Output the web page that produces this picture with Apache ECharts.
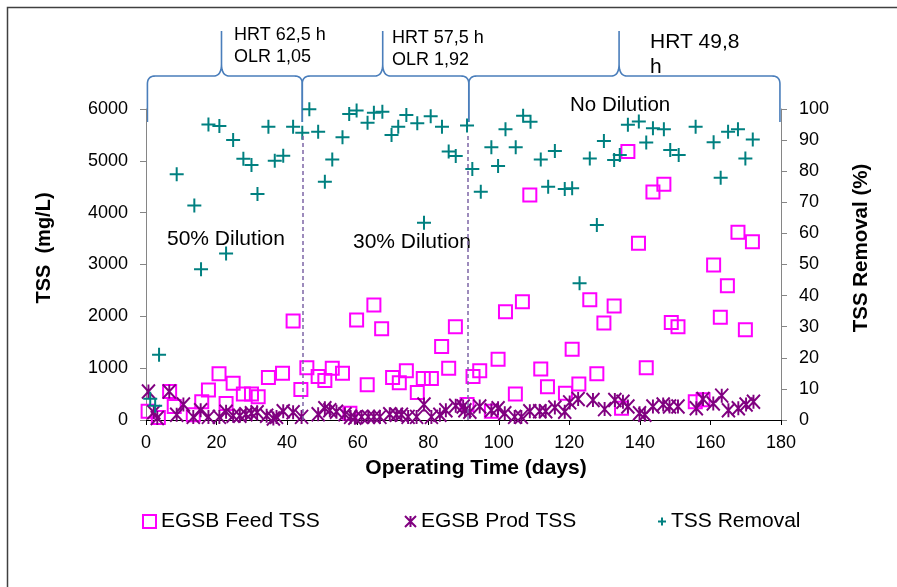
<!DOCTYPE html>
<html>
<head>
<meta charset="utf-8">
<script src="https://cdn.jsdelivr.net/npm/echarts@6/dist/echarts.min.js"></script>
<style>
  html, body { margin: 0; padding: 0; background: #fff; }
  #main { width: 897px; height: 587px; }
</style>
</head>
<body>
<div id="main"></div>
<script>
// [day, mg/L]
const feedTss = [
  [0.6, 170], [3.5, 50], [6.7, 550], [8.0, 260], [13.4, 100], [15.8, 350], [17.7, 580],
  [20.7, 890], [22.7, 320], [24.7, 710], [27.6, 500], [29.9, 500], [31.8, 450], [34.7, 820],
  [38.7, 900], [41.7, 1910], [43.9, 590], [45.6, 1010], [48.8, 840], [50.7, 760], [52.8, 1000],
  [55.7, 900], [57.8, 130], [59.7, 1930], [62.7, 680], [64.6, 2220], [66.8, 1760], [69.9, 820],
  [71.8, 720], [73.8, 950], [76.9, 530], [78.6, 800], [80.9, 800], [83.8, 1420], [85.8, 1000],
  [87.7, 1800], [91.0, 300], [92.7, 840], [94.6, 950], [97.9, 170], [99.8, 1170], [101.9, 2090],
  [104.7, 500], [106.7, 2280], [108.8, 4340], [111.9, 985], [113.8, 640], [118.9, 515],
  [120.8, 1365], [122.7, 695], [125.8, 2320], [127.8, 890], [129.8, 1870], [132.7, 2200],
  [134.8, 225], [136.6, 5180], [139.6, 3410], [141.8, 1010], [143.7, 4400], [146.8, 4550],
  [148.9, 1880], [150.8, 1800], [155.7, 350], [157.9, 390], [160.9, 2990], [162.8, 1980],
  [164.8, 2590], [167.8, 3620], [169.9, 1740], [171.9, 3440]
];
const prodTss = [
  [0.7, 550], [2.2, 150], [3.2, 40], [6.6, 550], [8.7, 100], [10.6, 300], [13.4, 60], [15.5, 190],
  [17.7, 60], [20.8, 60], [22.7, 160], [24.7, 80], [26.6, 80], [28.3, 110], [29.9, 130], [31.5, 150],
  [34.2, 80], [36.1, 30], [37.0, 60], [38.9, 170], [41.7, 150], [44.1, 60], [48.8, 110], [50.7, 225],
  [52.1, 190], [54.0, 160], [56.4, 110], [58.0, 60], [59.2, 45], [61.1, 60], [63.0, 60], [64.6, 60],
  [66.3, 60], [69.1, 110], [71.0, 100], [72.4, 100], [74.3, 60], [76.7, 60], [78.8, 300], [80.9, 60],
  [83.3, 100], [85.0, 190], [87.8, 275], [89.9, 260], [90.4, 190], [91.8, 160], [94.6, 260],
  [97.9, 190], [99.8, 225], [101.7, 130], [104.5, 60], [106.4, 60], [108.8, 170], [111.6, 170],
  [113.3, 170], [115.9, 240], [118.7, 160], [120.1, 340], [122.5, 405], [126.7, 385], [130.0, 210],
  [132.9, 385], [135.2, 350], [136.6, 260], [139.9, 130], [141.4, 100], [143.7, 260], [146.6, 300],
  [148.4, 260], [150.8, 260], [156.0, 225], [157.9, 405], [160.8, 320], [163.2, 470], [165.1, 190],
  [167.9, 225], [170.1, 300], [172.2, 350]
];
// [day, %]
const tssRemoval = [
  [1.2, 6.8], [2.6, 4.6], [3.7, 21], [8.7, 79], [13.7, 69], [15.6, 48.5], [17.7, 95], [20.8, 94.5],
  [22.7, 53.5], [24.7, 90], [27.6, 84], [29.9, 82], [31.6, 72.7], [34.7, 94.3], [36.5, 83.4],
  [38.9, 85], [41.7, 94.3], [44.3, 92.4], [46.3, 99.9], [48.8, 92.7], [50.7, 76.6], [52.8, 83.8],
  [55.7, 90.9], [57.6, 98.4], [59.7, 99.5], [62.8, 95.6], [64.6, 98.8], [67.0, 99.1], [69.6, 91.6],
  [71.5, 94.3], [73.8, 98.1], [76.9, 95.4], [78.8, 63.4], [80.7, 97.7], [83.9, 94.3], [85.8, 86.3],
  [87.8, 84.9], [91.0, 94.7], [92.5, 80.7], [94.9, 73.4], [97.9, 87.7], [99.8, 81.7], [101.9, 93.5],
  [104.8, 87.7], [106.9, 97.8], [109.0, 95.9], [111.9, 83.8], [114.0, 75.0], [115.9, 86.5],
  [118.7, 74.3], [120.8, 74.5], [122.9, 44.0], [125.8, 84.1], [127.8, 62.7], [129.8, 89.7],
  [132.7, 83.6], [134.3, 85.2], [136.6, 94.9], [139.7, 96.0], [141.8, 89.2], [143.7, 93.8],
  [146.8, 93.5], [148.6, 86.8], [151.0, 85.2], [155.8, 94.3], [160.9, 89.3], [162.9, 77.9],
  [165.0, 92.7], [167.8, 93.5], [169.9, 84.1], [172.0, 90.2]
];
// phase boundaries (days)
const phaseSplits = [44.3, 91.3];
const braceEnds = [0.4, 44.3, 91.5, 179.7];
const braceTips = [21.4, 67.1, 134.1];

const FONT = '"Liberation Sans", Arial, sans-serif';
const chart = echarts.init(document.getElementById('main'));

const tickLabel = { fontSize: 18, color: '#000', fontFamily: FONT, formatter: v => String(v) };
const legendText = { fontSize: 21, fontFamily: FONT, color: '#000' };

chart.setOption({
  animation: false,
  grid: { left: 146, right: 116, top: 109, bottom: 167 },
  xAxis: {
    type: 'value', min: 0, max: 180, interval: 20,
    axisLine: { onZero: false, lineStyle: { color: '#000', width: 1 } },
    axisTick: { show: true, length: 5, lineStyle: { color: '#000' } },
    axisLabel: Object.assign({ margin: 14 }, tickLabel),
    splitLine: { show: false }
  },
  yAxis: [
    {
      type: 'value', min: 0, max: 6000, interval: 1000,
      axisLine: { show: true, lineStyle: { color: '#868686' } },
      axisTick: { show: true, length: 6, lineStyle: { color: '#868686' } },
      axisLabel: Object.assign({ margin: 18 }, tickLabel),
      splitLine: { show: false }
    },
    {
      type: 'value', min: 0, max: 100, interval: 10, position: 'right',
      axisLine: { show: true, lineStyle: { color: '#868686' } },
      axisTick: { show: true, length: 6, lineStyle: { color: '#868686' } },
      axisLabel: Object.assign({ margin: 18 }, tickLabel),
      splitLine: { show: false }
    }
  ],
  legend: [
    { data: ['EGSB Feed TSS'], left: 137, top: 506, itemWidth: 13, itemHeight: 13, textStyle: legendText },
    { data: ['EGSB Prod TSS'], left: 399, top: 506, itemWidth: 11, itemHeight: 14, textStyle: legendText },
    { data: ['TSS Removal'], left: 652, top: 506, itemWidth: 8, itemHeight: 10, textStyle: legendText }
  ],
  series: [
    {
      name: 'EGSB Feed TSS', type: 'scatter', yAxisIndex: 0, data: feedTss,
      symbol: 'rect', symbolSize: 13,
      itemStyle: { color: 'rgba(255,255,255,0)', borderColor: '#FF00FF', borderWidth: 2, opacity: 1 },
      markLine: {
        silent: true, symbol: 'none',
        label: { show: false },
        lineStyle: { color: '#7E65A6', type: [4, 3], width: 1.5 },
        data: phaseSplits.map(d => [{ coord: [d, 0] }, { coord: [d, 5500] }])
      }
    },
    {
      name: 'EGSB Prod TSS', type: 'scatter', yAxisIndex: 0, data: prodTss,
      symbol: 'path://M0,0L10,10M10,0L0,10M5,0L5,10', symbolSize: [13, 14],
      itemStyle: { color: '#800080', borderColor: '#800080', borderWidth: 2, opacity: 1 }
    },
    {
      name: 'TSS Removal', type: 'scatter', yAxisIndex: 1, data: tssRemoval,
      symbol: 'path://M5,0L5,10M0,5L10,5', symbolSize: 14,
      itemStyle: { color: '#008080', borderColor: '#008080', borderWidth: 2, opacity: 1 }
    }
  ]
});

// braces, labels and titles laid over the chart
function px(day) { return chart.convertToPixel({ xAxisIndex: 0 }, day); }

function quad(pts, p0, c, p1) {
  for (let t = 0.1; t <= 1.0001; t += 0.1) {
    const u = 1 - t;
    pts.push([u * u * p0[0] + 2 * u * t * c[0] + t * t * p1[0],
              u * u * p0[1] + 2 * u * t * c[1] + t * t * p1[1]]);
  }
}

function brace(xa, xt, xb) {
  const yh = 76, yt = 31, yb = 122, r = 8;
  const pts = [[xa, yb], [xa, yh + r]];
  quad(pts, [xa, yh + r], [xa, yh], [xa + r, yh]);
  pts.push([xt - r, yh]);
  quad(pts, [xt - r, yh], [xt, yh], [xt, yh - 12]);
  pts.push([xt, yt]);
  pts.push([xt, yh - 12]);
  quad(pts, [xt, yh - 12], [xt, yh], [xt + r, yh]);
  pts.push([xb - r, yh]);
  quad(pts, [xb - r, yh], [xb, yh], [xb, yh + r]);
  pts.push([xb, yb]);
  return {
    type: 'polyline', shape: { points: pts }, silent: true,
    style: { stroke: '#4A7EBB', lineWidth: 1.6, fill: null }
  };
}

function label(text, x, y, size, bold) {
  return {
    type: 'text', x: x, y: y, silent: true,
    style: { text: text, fill: '#000', verticalAlign: 'middle', align: 'left',
             font: (bold ? 'bold ' : '') + size + 'px ' + FONT }
  };
}

const elements = [];
for (let i = 0; i < braceTips.length; i++) {
  elements.push(brace(px(braceEnds[i]), px(braceTips[i]), px(braceEnds[i + 1])));
}
elements.push(
  label('HRT 62,5 h', 234, 35, 18),
  label('OLR 1,05', 234, 57, 18),
  label('HRT 57,5 h', 392, 38, 18),
  label('OLR 1,92', 392, 60, 18),
  label('HRT 49,8', 650, 42, 21),
  label('h', 650, 67, 21),
  label('No Dilution', 570, 105, 20.5),
  label('50% Dilution', 167, 239, 21),
  label('30% Dilution', 353, 242, 21),
  {
    type: 'text', x: 476, y: 468, silent: true,
    style: { text: 'Operating Time (days)', fill: '#000', align: 'center', verticalAlign: 'middle',
             font: 'bold 21px ' + FONT }
  },
  {
    type: 'text', x: 44, y: 248, rotation: Math.PI / 2, silent: true,
    style: { text: 'TSS  (mg/L)', fill: '#000', align: 'center', verticalAlign: 'middle',
             font: 'bold 20px ' + FONT }
  },
  {
    type: 'text', x: 861, y: 248, rotation: Math.PI / 2, silent: true,
    style: { text: 'TSS Removal (%)', fill: '#000', align: 'center', verticalAlign: 'middle',
             font: 'bold 20.5px ' + FONT }
  },
  {
    type: 'polyline', silent: true,
    shape: { points: [[7.5, 587], [7.5, 7.5], [897, 7.5]] },
    style: { stroke: '#404040', lineWidth: 1.5, fill: null }
  }
);
chart.setOption({ graphic: elements });
</script>
</body>
</html>
